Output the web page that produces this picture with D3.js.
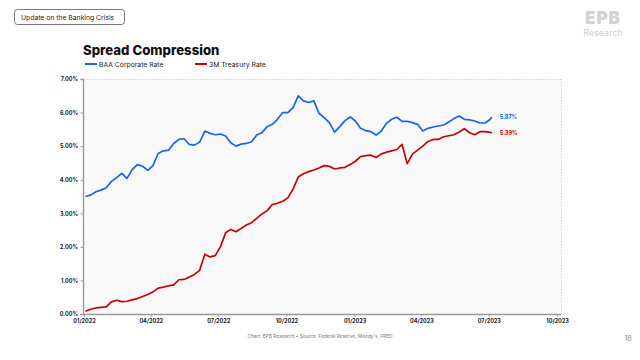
<!DOCTYPE html>
<html><head><meta charset="utf-8">
<script src="https://cdn.jsdelivr.net/npm/d3@7"></script>
<style>
html,body{margin:0;padding:0;background:#fff;}
svg{display:block;font-family:Inter,"Open Sans",sans-serif;}
</style></head>
<body>
<svg id="c" width="640" height="360"></svg>
<script>
const dates = ["2022-01-03","2022-01-10","2022-01-17","2022-01-24","2022-01-31","2022-02-07","2022-02-14","2022-02-21","2022-02-28","2022-03-07","2022-03-14","2022-03-21","2022-03-28","2022-04-04","2022-04-11","2022-04-18","2022-04-25","2022-05-02","2022-05-09","2022-05-16","2022-05-23","2022-05-30","2022-06-06","2022-06-13","2022-06-20","2022-06-27","2022-07-04","2022-07-11","2022-07-18","2022-07-25","2022-08-01","2022-08-08","2022-08-15","2022-08-22","2022-08-29","2022-09-05","2022-09-12","2022-09-19","2022-09-26","2022-10-03","2022-10-10","2022-10-17","2022-10-24","2022-10-31","2022-11-07","2022-11-14","2022-11-21","2022-11-28","2022-12-05","2022-12-12","2022-12-19","2022-12-26","2023-01-02","2023-01-09","2023-01-16","2023-01-23","2023-01-30","2023-02-06","2023-02-13","2023-02-20","2023-02-27","2023-03-06","2023-03-13","2023-03-20","2023-03-27","2023-04-03","2023-04-10","2023-04-17","2023-04-24","2023-05-01","2023-05-08","2023-05-15","2023-05-22","2023-05-29","2023-06-05","2023-06-12","2023-06-19","2023-06-26","2023-07-03","2023-07-05"];

const baaRate = [3.50,3.54,3.64,3.69,3.76,3.95,4.06,4.19,4.04,4.30,4.45,4.40,4.28,4.42,4.78,4.86,4.88,5.08,5.20,5.22,5.05,5.03,5.12,5.45,5.38,5.34,5.36,5.30,5.10,5.00,5.06,5.08,5.13,5.33,5.40,5.58,5.65,5.80,6.00,6.00,6.15,6.50,6.35,6.30,6.35,5.98,5.85,5.70,5.42,5.58,5.76,5.87,5.75,5.53,5.46,5.43,5.33,5.45,5.68,5.80,5.86,5.74,5.74,5.70,5.65,5.45,5.53,5.57,5.60,5.63,5.72,5.82,5.90,5.80,5.78,5.75,5.69,5.69,5.80,5.87];

const treasury3m = [0.08,0.14,0.18,0.20,0.21,0.36,0.41,0.37,0.38,0.42,0.46,0.52,0.58,0.66,0.77,0.80,0.84,0.87,1.02,1.03,1.10,1.18,1.30,1.78,1.70,1.74,2.00,2.42,2.52,2.45,2.55,2.65,2.72,2.85,2.98,3.08,3.26,3.30,3.36,3.46,3.72,4.08,4.18,4.24,4.29,4.35,4.42,4.40,4.32,4.35,4.37,4.45,4.55,4.69,4.72,4.73,4.66,4.77,4.82,4.86,4.90,5.05,4.48,4.76,4.88,5.00,5.14,5.20,5.20,5.28,5.31,5.34,5.42,5.52,5.40,5.34,5.43,5.43,5.41,5.39];

const seriesNames = ["BAA Corporate Rate","3M Treasury Rate"];
const seriesColors = ["#1a63f0","#c80000"];
const yTicks = [0,1,2,3,4,5,6,7];
const xTickDates = ["2022-01-01","2022-04-01","2022-07-01","2022-10-01","2023-01-01","2023-04-01","2023-07-01","2023-10-01"];

const parse = d3.timeParse("%Y-%m-%d");
const svg = d3.select("#c");

const L = 83, R = 561, T = 79, B = 314;
const x = d3.scaleTime().domain([parse("2022-01-01"), parse("2023-10-01")]).range([84, 557]);
const y = d3.scaleLinear().domain([0, 7]).range([B, T]);

// header box
svg.append("rect").attr("x",14.5).attr("y",9.5).attr("width",110).attr("height",15).attr("rx",3)
  .attr("fill","#fff").attr("stroke","#555").attr("stroke-width",0.8);
svg.append("text").attr("x",21).attr("y",19.5).attr("font-size",6.8).attr("fill","#222")
  .text("Update on the Banking Crisis");

// logo
svg.append("text").attr("x",603).attr("y",24).attr("text-anchor","middle").attr("font-size",17)
  .attr("font-weight",900).attr("fill","#d2d2d2").attr("letter-spacing",1).text("EPB");
svg.append("text").attr("x",603).attr("y",36).attr("text-anchor","middle").attr("font-size",9)
  .attr("fill","#cfcfcf").text("Research");

// title
svg.append("text").attr("x",83).attr("y",55).attr("font-size",13.2).attr("font-weight",800)
  .attr("fill","#111").text("Spread Compression");

// legend
const lg = svg.append("g");
[[85,99],[195,209]].forEach((p,i)=>{
  lg.append("line").attr("x1",p[0]).attr("x2",p[0]+12).attr("y1",64).attr("y2",64)
    .attr("stroke",seriesColors[i]).attr("stroke-width",2);
  lg.append("text").attr("x",p[1]).attr("y",66.5).attr("font-size",6.8).attr("fill","#222").text(seriesNames[i]);
});

// plot background
svg.append("rect").attr("x",L).attr("y",T).attr("width",R-L).attr("height",B-T).attr("fill","#f8f8f8");
svg.append("line").attr("x1",L).attr("x2",R).attr("y1",T+0.5).attr("y2",T+0.5)
  .attr("stroke","#c8c8c8").attr("stroke-width",0.8).attr("stroke-dasharray","1.5,1.5");
svg.append("line").attr("x1",R+0.5).attr("x2",R+0.5).attr("y1",T).attr("y2",B)
  .attr("stroke","#c8c8c8").attr("stroke-width",0.8).attr("stroke-dasharray","1.5,1.5");

// axes
const yAxis = d3.axisLeft(y).tickValues(yTicks).tickSize(2.5).tickFormat(d=>d3.format(".2f")(d)+"%");
const gy = svg.append("g").attr("transform",`translate(${L},0)`).call(yAxis);
gy.select(".domain").attr("stroke","#999").attr("stroke-width",1.4);
gy.selectAll(".tick line").attr("stroke","#999");
gy.selectAll(".tick text").attr("font-size",5.5).attr("font-weight",700).attr("fill","#222")
  .attr("font-family","Inter,sans-serif").attr("x",-5);

const xAxis = d3.axisBottom(x).tickValues(xTickDates.map(parse)).tickSize(2.5).tickFormat(d3.timeFormat("%m/%Y"));
const gx = svg.append("g").attr("transform",`translate(0,${B})`).call(xAxis);
gx.select(".domain").attr("stroke","#999").attr("stroke-width",1.4).attr("d",`M${L},0.5H${R}`);
gx.selectAll(".tick line").attr("stroke","#999");
gx.selectAll(".tick text").attr("font-size",5.5).attr("font-weight",700).attr("fill","#222")
  .attr("font-family","Inter,sans-serif").attr("y",5.5);

// lines
const series = [baaRate, treasury3m];
const line = d3.line().x(d=>x(d[0])).y(d=>y(d[1]));
series.forEach((vals,i)=>{
  const pts = dates.map((d,j)=>[parse(d), vals[j]]);
  svg.append("path").datum(pts).attr("d",line).attr("fill","none")
    .attr("stroke",seriesColors[i]).attr("stroke-width",1.7).attr("stroke-linejoin","round");
  const last = pts[pts.length-1];
  svg.append("text").attr("x",x(last[0])+8).attr("y",y(last[1])+2)
    .attr("font-size",5.5).attr("font-weight",700).attr("fill",seriesColors[i])
    .text(d3.format(".2f")(last[1])+"%");
});

// footer
svg.append("text").attr("x",320).attr("y",338).attr("text-anchor","middle").attr("font-size",4.8)
  .attr("fill","#777").text("Chart: EPB Research \u2022  Source: Federal Reserve, Moody's, FRED");
svg.append("text").attr("x",628).attr("y",341).attr("text-anchor","middle").attr("font-size",7)
  .attr("fill","#888").text("18");
</script>
</body></html>
